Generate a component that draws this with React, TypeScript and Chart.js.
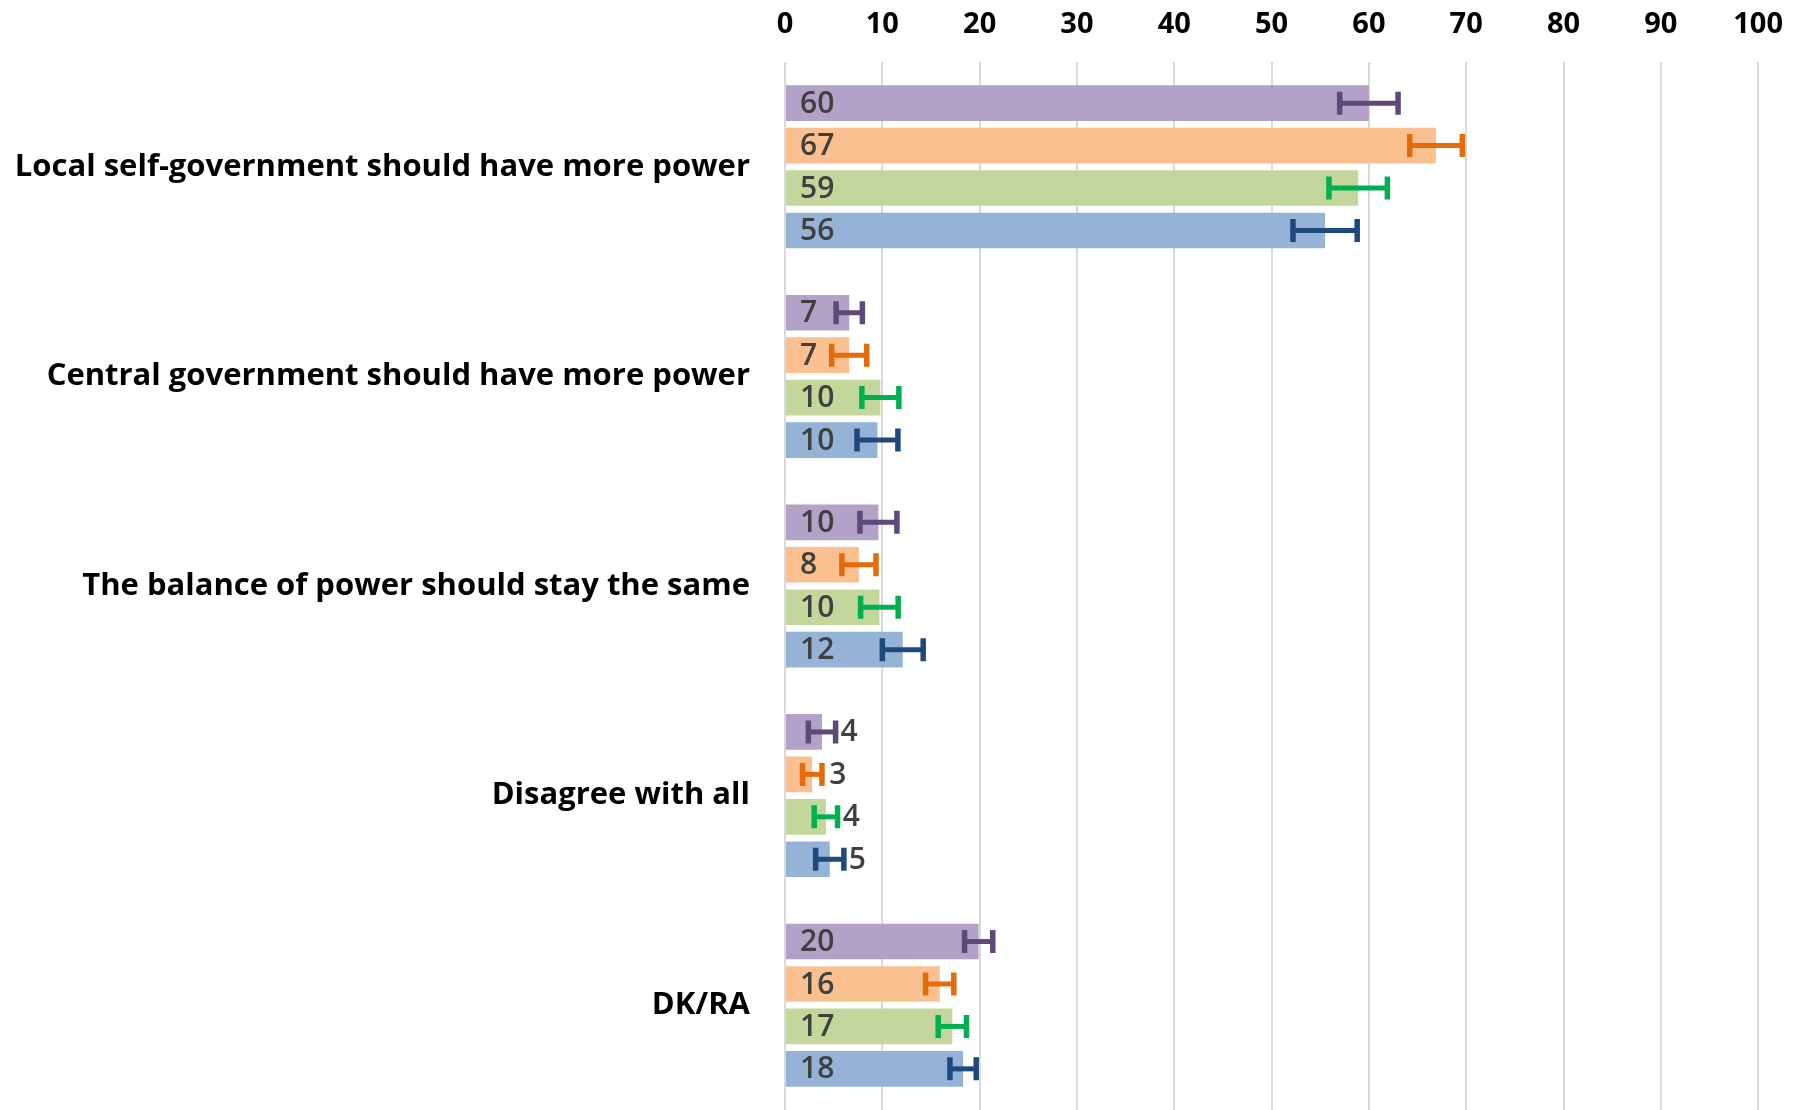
import React, { useEffect, useRef } from "react";
import { Chart, registerables } from "chart.js";

Chart.register(...registerables);

const categories = [
  "Local self-government should have more power",
  "Central government should have more power",
  "The balance of power should stay the same",
  "Disagree with all",
  "DK/RA",
];
const xTicks = [0, 10, 20, 30, 40, 50, 60, 70, 80, 90, 100];

const seriesNames = ["Series 1", "Series 2", "Series 3", "Series 4"];
const purpleValues = [60, 6.6, 9.6, 3.8, 19.9];
const orangeValues = [66.9, 6.6, 7.6, 2.8, 15.9];
const greenValues = [58.9, 9.8, 9.7, 4.2, 17.2];
const blueValues = [55.5, 9.5, 12.1, 4.6, 18.3];

const purpleErrors = [3.0, 1.35, 1.9, 1.4, 1.45];
const orangeErrors = [2.7, 1.8, 1.75, 1.0, 1.45];
const greenErrors = [3.0, 1.9, 1.93, 1.2, 1.45];
const blueErrors = [3.3, 2.1, 2.1, 1.45, 1.35];

const barColors = ["#B3A2C7", "#FAC090", "#C3D69B", "#95B3D7"];
const errColors = ["#5F497A", "#E36C09", "#00B050", "#1F497D"];

const FONT = "'Open Sans', 'Noto Sans', sans-serif";

const errorBarPlugin = {
  id: "errorBarsAndLabels",
  afterDatasetsDraw(chart: any) {
    const ctx = chart.ctx;
    const xScale = chart.scales.x;
    chart.data.datasets.forEach((ds: any, di: number) => {
      const meta = chart.getDatasetMeta(di);
      meta.data.forEach((bar: any, i: number) => {
        const v = ds.data[i];
        const e = ds.errors[i];
        const lo = xScale.getPixelForValue(v - e);
        const hi = xScale.getPixelForValue(v + e);
        const y = bar.y;
        ctx.save();
        ctx.strokeStyle = ds.errColor;
        ctx.lineWidth = 5;
        ctx.lineCap = "butt";
        ctx.beginPath();
        ctx.moveTo(lo, y);
        ctx.lineTo(hi, y);
        ctx.stroke();
        ctx.lineWidth = 5.5;
        ctx.beginPath();
        ctx.moveTo(lo, y - 11.5);
        ctx.lineTo(lo, y + 11.5);
        ctx.moveTo(hi, y - 11.5);
        ctx.lineTo(hi, y + 11.5);
        ctx.stroke();
        ctx.restore();

        // label
        const base = xScale.getPixelForValue(0);
        const end = bar.x;
        const txt = String(Math.round(v));
        ctx.save();
        ctx.font = `600 30px ${FONT}`;
        ctx.fillStyle = "#404040";
        ctx.textBaseline = "middle";
        ctx.textAlign = "left";
        let lx = base + 15;
        if (end - base < 55) {
          lx = Math.max(end + 17, hi + 5);
        }
        ctx.fillText(txt, lx, y + 1);
        ctx.restore();
      });
    });
  },
};

export default function App() {
  const ref = useRef<HTMLCanvasElement | null>(null);
  useEffect(() => {
    if (!ref.current) return;
    const valuesList = [purpleValues, orangeValues, greenValues, blueValues];
    const errList = [purpleErrors, orangeErrors, greenErrors, blueErrors];
    const chart = new Chart(ref.current, {
      type: "bar",
      data: {
        labels: categories,
        datasets: valuesList.map((vals, i) => ({
          label: seriesNames[i],
          data: vals,
          errors: errList[i],
          errColor: errColors[i],
          backgroundColor: barColors[i],
          borderWidth: 0,
          barPercentage: 0.84,
          categoryPercentage: 0.81,
        })) as any,
      },
      options: {
        indexAxis: "y",
        responsive: false,
        animation: false,
        layout: { autoPadding: false, padding: { left: 0, right: 44, top: 0, bottom: 0 } },
        plugins: {
          legend: { display: false },
          tooltip: { enabled: false },
        },
        scales: {
          x: {
            position: "top",
            min: 0,
            max: 100,
            afterBuildTicks: (scale: any) => {
              scale.ticks = xTicks.map((v) => ({ value: v }));
            },
            afterFit: (scale: any) => {
              scale.height = 62;
              scale.paddingLeft = 0;
            },
            grid: { color: "#D9D9D9", lineWidth: 2, drawTicks: false },
            border: { display: false },
            ticks: {
              padding: 20,
              color: "#000000",
              font: { family: FONT, size: 29, weight: "bold" },
            },
          },
          y: {
            afterFit: (scale: any) => {
              scale.width = 785;
              scale.paddingTop = 0;
              scale.paddingBottom = 0;
            },
            grid: { display: false, drawTicks: false },
            border: { display: false },
            ticks: {
              padding: 35,
              color: "#000000",
              font: { family: FONT, size: 31, weight: "bold" },
            },
          },
        },
      } as any,
      plugins: [errorBarPlugin],
    });
    return () => chart.destroy();
  }, []);
  return (
    <div style={{ position: "fixed", left: 0, top: 0, width: 1803, height: 1110, background: "#fff" }}>
      <canvas ref={ref} width={1803} height={1110} style={{ display: "block" }} />
    </div>
  );
}
